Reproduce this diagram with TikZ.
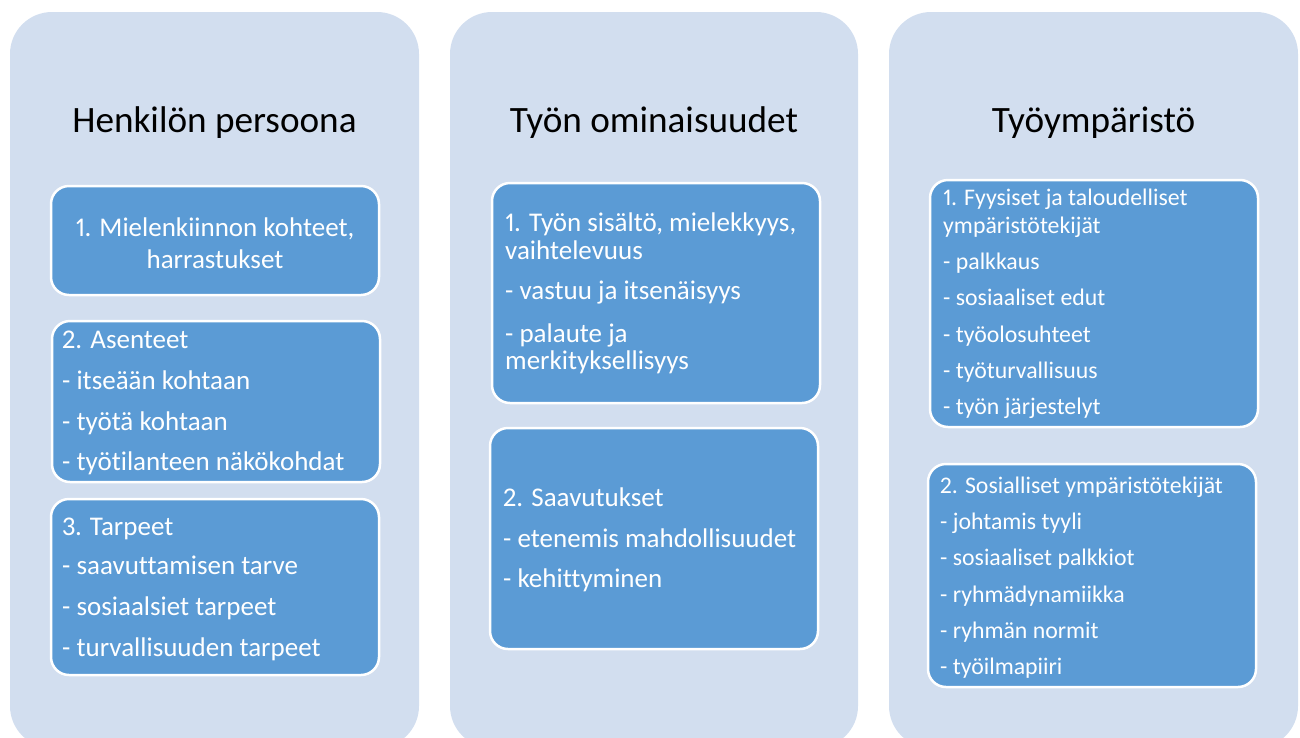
\documentclass[tikz,border=0pt]{standalone}
\usepackage{fontspec}
\setmainfont{Carlito}[Ligatures=NoCommon,Numbers=Proportional]
\definecolor{panelc}{HTML}{D2DEEF}
\definecolor{boxc}{HTML}{5B9BD5}
\begin{document}
\begin{tikzpicture}[x=1pt,y=-1pt,
  panel/.style={fill=panelc,rounded corners=42pt},
  itembox/.style={fill=boxc,draw=white,line width=2.5pt,rounded corners=18pt},
  title/.style={anchor=base,inner sep=0pt,font=\fontsize{37.2}{40}\selectfont,text=black},
  ln/.style={anchor=base west,inner sep=0pt,font=\fontsize{27}{30}\selectfont,text=white},
  lnc/.style={anchor=base,inner sep=0pt,font=\fontsize{27}{30}\selectfont,text=white},
  lns/.style={anchor=base west,inner sep=0pt,font=\fontsize{23.8}{25}\selectfont,text=white}]
\useasboundingbox (0,0) rectangle (1300,737);
\begin{scope}
\clip (0,0) rectangle (1300,737);
% panels
\path[panel] (10,12) rectangle (419,748);
\path[panel] (450,12) rectangle (858,748);
\path[panel] (889,12) rectangle (1298,748);
% titles
\node[title] (t1) at (214.5,132) {Henkilön persoona};
\node[title] (t2) at (654,132) {Työn ominaisuudet};
\node[title] (t3) at (1093.5,132) {Työympäristö};
% left column boxes
\path[itembox] (51,186) rectangle (379,295);
\node[lnc] (a1) at (215,236) {1. Mielenkiinnon kohteet,};
\node[lnc] (a2) at (215,268) {harrastukset};
\path[itembox] (52,321) rectangle (380,482);
\node[ln] (b1) at (62,348) {2. Asenteet};
\node[ln] (b2) at (62,389) {- itseään kohtaan};
\node[ln] (b3) at (62,430) {- työtä kohtaan};
\node[ln] (b4) at (62,470) {- työtilanteen näkökohdat};
\path[itembox] (51,499) rectangle (379,675);
\node[ln] (c1) at (62,535) {3. Tarpeet};
\node[ln] (c2) at (62,574) {- saavuttamisen tarve};
\node[ln] (c3) at (62,615) {- sosiaalsiet tarpeet};
\node[ln] (c4) at (62,656) {- turvallisuuden tarpeet};
% middle column boxes
\path[itembox] (492,183) rectangle (820,403);
\node[ln] (d1) at (505,231) {1. Työn sisältö, mielekkyys,};
\node[ln] (d2) at (505,259) {vaihtelevuus};
\node[ln] (d3) at (505,299) {- vastuu ja itsenäisyys};
\node[ln] (d4) at (505,342) {- palaute ja};
\node[ln] (d5) at (505,369) {merkityksellisyys};
\path[itembox] (490,428) rectangle (818,649);
\node[ln] (e1) at (503,506) {2. Saavutukset};
\node[ln] (e2) at (503,547) {- etenemis mahdollisuudet};
\node[ln] (e3) at (503,587) {- kehittyminen};
% right column boxes
\path[itembox] (930,180) rectangle (1258,427);
\node[lns] (f1) at (943,205) {1. Fyysiset ja taloudelliset};
\node[lns] (f2) at (943,233) {ympäristötekijät};
\node[lns] (f3) at (943,269) {- palkkaus};
\node[lns] (f4) at (943,305) {- sosiaaliset edut};
\node[lns] (f5) at (943,342) {- työolosuhteet};
\node[lns] (f6) at (943,378) {- työturvallisuus};
\node[lns] (f7) at (943,414) {- työn järjestelyt};
\path[itembox] (928,464) rectangle (1256,687);
\node[lns] (g1) at (940,493) {2. Sosialliset ympäristötekijät};
\node[lns] (g2) at (940,529) {- johtamis tyyli};
\node[lns] (g3) at (940,565) {- sosiaaliset palkkiot};
\node[lns] (g4) at (940,602) {- ryhmädynamiikka};
\node[lns] (g5) at (940,638) {- ryhmän normit};
\node[lns] (g6) at (940,674) {- työilmapiiri};
\end{scope}
\end{tikzpicture}
\end{document}
